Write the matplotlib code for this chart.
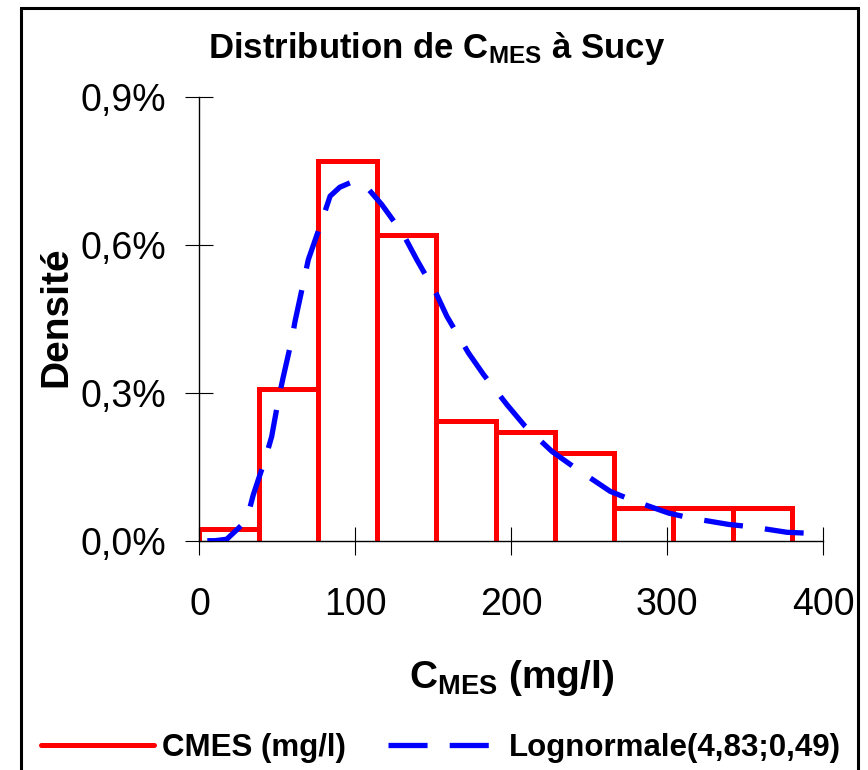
import matplotlib
matplotlib.use('Agg')
import matplotlib.pyplot as plt
from matplotlib.patches import Rectangle
from matplotlib.lines import Line2D
from matplotlib.ticker import FuncFormatter
import numpy as np

plt.rcParams['font.family'] = ['Liberation Sans', 'DejaVu Sans']
plt.rcParams['mathtext.fontset'] = 'custom'
plt.rcParams['mathtext.rm'] = 'Liberation Sans'
plt.rcParams['mathtext.bf'] = 'Liberation Sans:bold'

# histogram of CMES (mg/l): bin edges and densities (in %)
bin_edges = [0, 38, 76, 114, 152, 190, 228, 266, 304, 342, 380]
density_pct = [0.023, 0.308, 0.770, 0.621, 0.243, 0.221, 0.177, 0.067, 0.067, 0.067]

# fitted lognormal curve (density in %)
curve_x = [5, 10, 17.5, 24.9, 30.3, 34.5, 42, 46.3, 50.6, 53.8, 59.2, 61.3, 67.1,
           69.8, 78.4, 83.8, 90, 96.6, 106.2, 116.9, 130.8, 139.4, 152.2, 158.7,
           172.5, 182.2, 197.2, 208.9, 226.1, 239.9, 263.5, 278.4, 300.9, 314.8,
           339.4, 354.4, 376.9, 391.9, 400]
curve_pct = [0.0, 0.0, 0.003, 0.025, 0.042, 0.093, 0.164, 0.211, 0.286, 0.333,
             0.408, 0.445, 0.530, 0.570, 0.648, 0.699, 0.717, 0.726, 0.721, 0.682,
             0.621, 0.570, 0.499, 0.455, 0.381, 0.337, 0.276, 0.232, 0.181, 0.150,
             0.100, 0.081, 0.056, 0.046, 0.033, 0.028, 0.017, 0.015, 0.013]

x_ticks = [0, 100, 200, 300, 400]
y_ticks = [0.0, 0.003, 0.006, 0.009]

edges = np.array(bin_edges)
dens = np.array(density_pct) / 100
cx = np.array(curve_x)
cy = np.array(curve_pct) / 100

fig = plt.figure(figsize=(8.68, 7.70), dpi=100)
ax = fig.add_axes([0.2298, 0.2978, 0.7185, 0.5762])

red = '#ff0000'
blue = '#0000ff'
ax.stairs(dens, edges, baseline=0, color=red, lw=3.6, zorder=2)
inner = np.maximum(dens[:-1], dens[1:])
ax.vlines(edges[1:-1], 0, inner, color=red, lw=3.6, capstyle='round', zorder=2)
ax.plot(cx, cy, color=blue, lw=3.8, dashes=(7.4, 4.2), zorder=3, solid_capstyle='butt')

ax.set_xlim(0, 400)
ax.set_ylim(0, 0.009)
ax.set_xticks(x_ticks)
ax.set_yticks(y_ticks)
ax.yaxis.set_major_formatter(FuncFormatter(lambda v, p: f'{v*100:.1f}%'.replace('.', ',')))
ax.tick_params(direction='inout', length=19.5, width=0.8, labelsize=27, pad=14)
ax.tick_params(axis='x', pad=23.5)

for s in ['top', 'right']:
    ax.spines[s].set_visible(False)
for s in ['left', 'bottom']:
    ax.spines[s].set_linewidth(1.0)
ax.patch.set_visible(False)

ax.set_xlabel(r'$\mathbf{C_{MES}}$ (mg/l)', fontsize=28, fontweight='bold')
ax.xaxis.set_label_coords(0.5, -0.309)
ax.xaxis.label.set_va('center')
ax.set_ylabel('Densité', fontsize=28, fontweight='bold')
ax.yaxis.set_label_coords(-0.230, 0.505)
ax.yaxis.label.set_va('center')

fig.text(0.5035, 0.937, r'Distribution de $\mathbf{C_{MES}}$ à Sucy',
         fontsize=25, fontweight='bold', ha='center', va='center')

handles = [Line2D([], [], color=red, lw=3.6, solid_capstyle='round'),
           Line2D([], [], color=blue, lw=3.8, dashes=(7.4, 4.2))]
fig.legend(handles, ['CMES (mg/l)', 'Lognormale(4,83;0,49)'], loc='center',
           bbox_to_anchor=(0.508, 0.029), ncol=2, frameon=False,
           prop={'size': 22.5, 'weight': 'bold'}, handlelength=3.6,
           handletextpad=0.26, columnspacing=1.35)

# outer frame, open at the bottom edge of the image
fig.patches.append(Rectangle((20.7 / 868, -0.05), 837 / 868, 1.05 - 8.3 / 770,
                             transform=fig.transFigure, fill=False,
                             edgecolor='black', lw=2.2))

fig.savefig('out.png', dpi=100)
plt.close(fig)
